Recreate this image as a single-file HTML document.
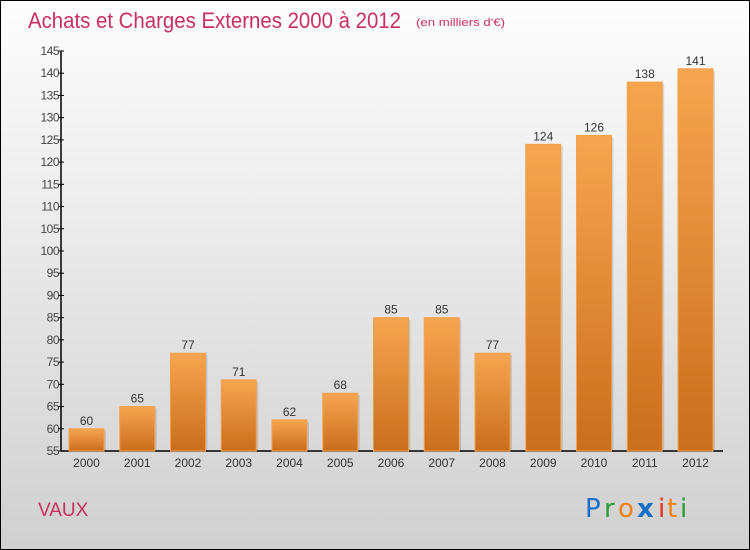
<!DOCTYPE html>
<html><head><meta charset="utf-8"><style>
body{margin:0;}
#c{width:750px;height:550px;position:relative;overflow:hidden;box-sizing:border-box;border:1px solid #000;background:linear-gradient(#fdfdfd,#f0f0f0 30%,#d0d0d0);font-family:"Liberation Sans",sans-serif;}
</style></head><body>
<div id="c">
<svg width="750" height="550" style="position:absolute;left:0;top:0">
<defs><linearGradient id="bg" x1="0" y1="0" x2="0" y2="1"><stop offset="0" stop-color="#f7a550"/><stop offset="1" stop-color="#c96e1c"/></linearGradient></defs>
<text x="27" y="27" font-size="22" fill="#c8305f" textLength="373" lengthAdjust="spacingAndGlyphs">Achats et Charges Externes 2000 à 2012</text>
<text x="415" y="25" font-size="11" fill="#c8305f" textLength="89" lengthAdjust="spacingAndGlyphs">(en milliers d'€)</text>
<text x="37" y="515" font-size="19" fill="#c8305f">VAUX</text>
<g font-family="'DejaVu Sans',sans-serif" font-size="26">
<text x="584" y="516" fill="#1a70c8">P</text><text x="603" y="516" fill="#2a9a3a">r</text><text x="617" y="516" fill="#f08010">o</text><text x="636" y="516" fill="#1a70c8" font-weight="bold">x</text><text x="657" y="516" fill="#e83020">i</text><text x="666" y="516" fill="#f08010">t</text><text x="679" y="516" fill="#2a9a3a">i</text>
</g>
<g id="axes"></g><g id="bars"></g>
</svg>
</div>
<script>
const years=["2000","2001","2002","2003","2004","2005","2006","2007","2008","2009","2010","2011","2012"];
const values=[60,65,77,71,62,68,85,85,77,124,126,138,141];
const yTicks=[55,60,65,70,75,80,85,90,95,100,105,110,115,120,125,130,135,140,145];
const NS="http://www.w3.org/2000/svg";
const y0=450,y1=50,vmin=55,vmax=145;
const Y=v=>y0-(v-vmin)/(vmax-vmin)*(y0-y1);
const X=i=>85.5+i*50.75;
const ax=document.getElementById('axes'),bg=document.getElementById('bars');
function mk(t,a,p){const e=document.createElementNS(NS,t);for(const k in a)e.setAttribute(k,a[k]);p.appendChild(e);return e;}
let l=mk('line',{x1:60,y1:y1,x2:60,y2:y0,stroke:'#000','stroke-width':1.5},ax);


l=mk('line',{x1:60,y1:y0,x2:722,y2:y0,stroke:'#000','stroke-width':1.5},ax);


yTicks.forEach(v=>{
 mk('line',{x1:57,x2:63,y1:Y(v),y2:Y(v),stroke:'#000'},ax);
 const t=mk('text',{x:58,y:Y(v)+4,'font-size':12,'text-anchor':'end',fill:'#444','letter-spacing':'-0.5'},ax);
 t.textContent=v;
 
 
});
years.forEach((yr,i)=>{
 const cx=X(i),v=values[i];
 mk('rect',{x:cx-17.5+2,y:Y(v)+2,width:35,height:y0-Y(v)-2,fill:'rgba(0,0,0,0.12)'},bg);
 const r=mk('rect',{x:cx-17.5,y:Y(v),width:35,height:y0-Y(v),fill:'url(#bg)',stroke:'#f4a04c','stroke-width':1},bg);
 
 
 const t=mk('text',{x:cx,y:Y(v)-4,'font-size':12,'text-anchor':'middle',fill:'#333'},bg);
 t.textContent=v;
 
 
 const x=mk('text',{x:cx,y:466,'font-size':12,'text-anchor':'middle',fill:'#333'},bg);
 x.textContent=yr;
 
 
});
</script>
</body></html>
